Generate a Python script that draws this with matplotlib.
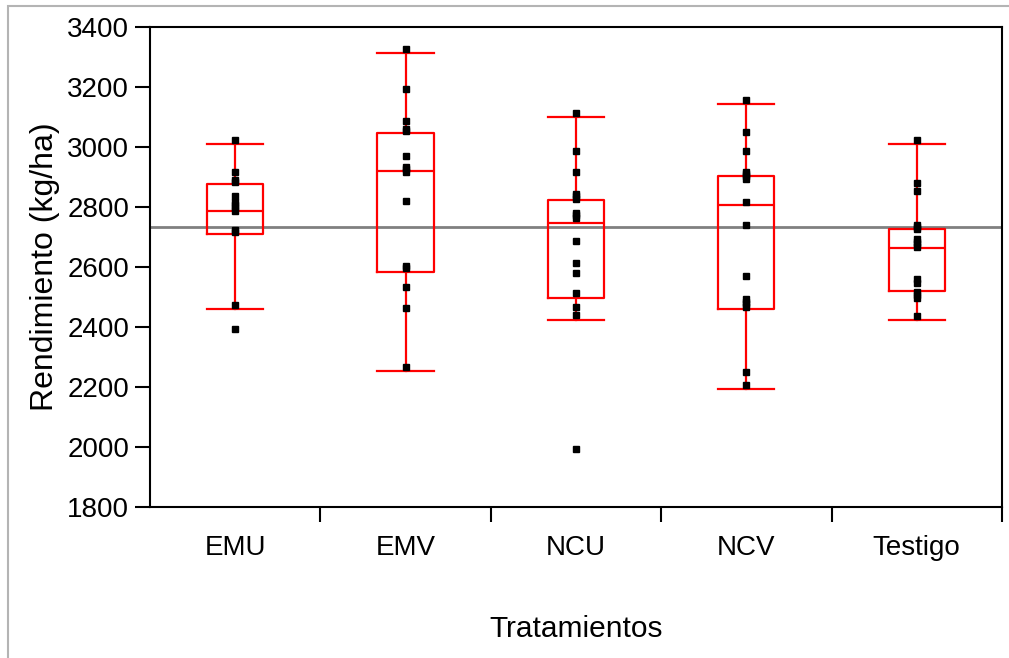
import matplotlib
matplotlib.use('Agg')
import matplotlib.pyplot as plt
from matplotlib.patches import Rectangle

plt.rcParams['font.family'] = ['Liberation Sans', 'DejaVu Sans']

# categorias
tratamientos = ['EMU', 'EMV', 'NCU', 'NCV', 'Testigo']

# puntos observados (kg/ha)
emu = [3023, 2917, 2890, 2882, 2837, 2815, 2805, 2797, 2788, 2724, 2718, 2472, 2392]
emv = [3326, 3192, 3086, 3060, 3054, 2970, 2934, 2925, 2918, 2819, 2603, 2597, 2534, 2463, 2268]
ncu = [3112, 2988, 2917, 2842, 2835, 2827, 2780, 2772, 2764, 2686, 2614, 2579, 2513, 2468, 2440, 1992]
ncv = [3157, 3050, 2988, 2917, 2910, 2903, 2893, 2818, 2739, 2570, 2492, 2484, 2477, 2468, 2250, 2206]
testigo = [3023, 2881, 2854, 2740, 2733, 2726, 2692, 2684, 2676, 2668, 2561, 2545, 2515, 2505, 2495, 2437]

# cuantiles de las cajas
q1 = [2710, 2584, 2496, 2459, 2521]
mediana = [2788, 2921, 2746, 2806, 2663]
q3 = [2877, 3046, 2823, 2903, 2728]
bigote_inf = [2459, 2254, 2423, 2192, 2423]
bigote_sup = [3010, 3312, 3099, 3143, 3010]

media_general = 2733

fig = plt.figure(figsize=(10.09, 6.58), dpi=100)
ax = fig.add_axes([0.1487, 0.2295, 0.8443, 0.7295])

# linea de la media general
ax.axhline(media_general, color='#808080', lw=2, zorder=1)

stats = []
for i, nombre in enumerate(tratamientos):
    stats.append({'label': nombre, 'q1': q1[i], 'med': mediana[i], 'q3': q3[i],
                  'whislo': bigote_inf[i], 'whishi': bigote_sup[i], 'fliers': []})

roja = dict(color='red', linewidth=1.6)
ax.bxp(stats, positions=range(1, 6), widths=0.33, showfliers=False,
       boxprops=roja, medianprops=roja, whiskerprops=roja, capprops=roja,
       capwidths=0.33, manage_ticks=False, zorder=2)

for i, datos in enumerate([emu, emv, ncu, ncv, testigo]):
    ax.plot([i + 1] * len(datos), datos, linestyle='none', marker='s',
            markersize=4.3, color='black', zorder=3)

ax.set_xlim(0.5, 5.5)
ax.set_ylim(1800, 3400)
ax.set_yticks(range(1800, 3401, 200))

ax.set_xticks(range(1, 6))
ax.set_xticklabels(tratamientos)
ax.set_xticks([1.5, 2.5, 3.5, 4.5, 5.5], minor=True)
ax.tick_params(axis='x', which='major', length=0, pad=20, labelsize=20)
ax.tick_params(axis='x', which='minor', length=11, width=1.5, direction='out')
ax.tick_params(axis='y', length=11, width=1.5, pad=4, labelsize=20)

for s in ax.spines.values():
    s.set_linewidth(1.5)

ax.set_ylabel('Rendimiento (kg/ha)', fontsize=23, labelpad=5)
ax.set_xlabel('Tratamientos', fontsize=21.5, labelpad=39)

# marco gris exterior
fig.patches.append(Rectangle((8 / 1009, -0.05), 1.2, 1.05 - 6 / 658,
                             transform=fig.transFigure, fill=False,
                             edgecolor='#b4b4b4', linewidth=1.5))

fig.savefig('out.png', dpi=100)
